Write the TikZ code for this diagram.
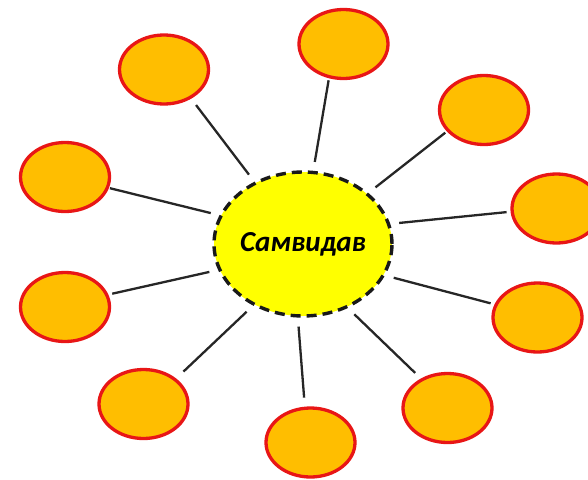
\documentclass[tikz,border=0pt]{standalone}
\usepackage{fontspec}
\usetikzlibrary{shapes.geometric}
\newfontfamily\hubfont{Carlito}
\definecolor{petalfill}{RGB}{255,190,0}
\definecolor{petalrim}{RGB}{232,22,22}
\definecolor{hubfill}{RGB}{255,255,0}

\begin{document}
\begin{tikzpicture}[x=1pt,y=-1pt,
  petal/.style={ellipse,draw=petalrim,fill=petalfill,line width=3.3pt,minimum width=89pt,minimum height=69pt},
  hub/.style={ellipse,draw=black!90,fill=hubfill,line width=3.4pt,dash pattern=on 10pt off 6pt,inner sep=0pt,minimum width=176pt,minimum height=144pt,
    font=\hubfont\bfseries\itshape\fontsize{29}{31}\selectfont},
  link/.style={draw=black!85,line width=2.3pt,shorten <=9pt}]
  \useasboundingbox (0,0) rectangle (588,479);
  \node[hub] (c) at (303,244) {Самвидав};
  \node[petal] (1) at (164,69.5) {};
  \node[petal] (2) at (343.5,44) {};
  \node[petal] (3) at (484,110) {};
  \node[petal] (4) at (556.5,208.5) {};
  \node[petal] (5) at (537.5,317.5) {};
  \node[petal] (6) at (447.5,408) {};
  \node[petal] (7) at (310.5,442.5) {};
  \node[petal] (8) at (143.5,404) {};
  \node[petal] (9) at (65,307) {};
  \node[petal] (10) at (65,177) {};
  \path[link]
  (c.128) edge[shorten >=8pt] (1.-47)
  (c.82) edge[shorten >=2pt] (2.-113)
  (c.38) edge[shorten >=2pt] (3.-150)
  (c.13) edge[shorten >=4pt] (4.-176)
  (c.-21) edge[shorten >=4pt] (5.163)
  (c.-55) edge[shorten >=8pt] (6.132)
  (c.-94) edge[shorten >=9pt] (7.99)
  (c.-129) edge[shorten >=10pt] (8.38)
  (c.-163) edge[shorten >=4pt] (9.16)
  (c.161) edge[shorten >=1pt] (10.-14);
\end{tikzpicture}
\end{document}
